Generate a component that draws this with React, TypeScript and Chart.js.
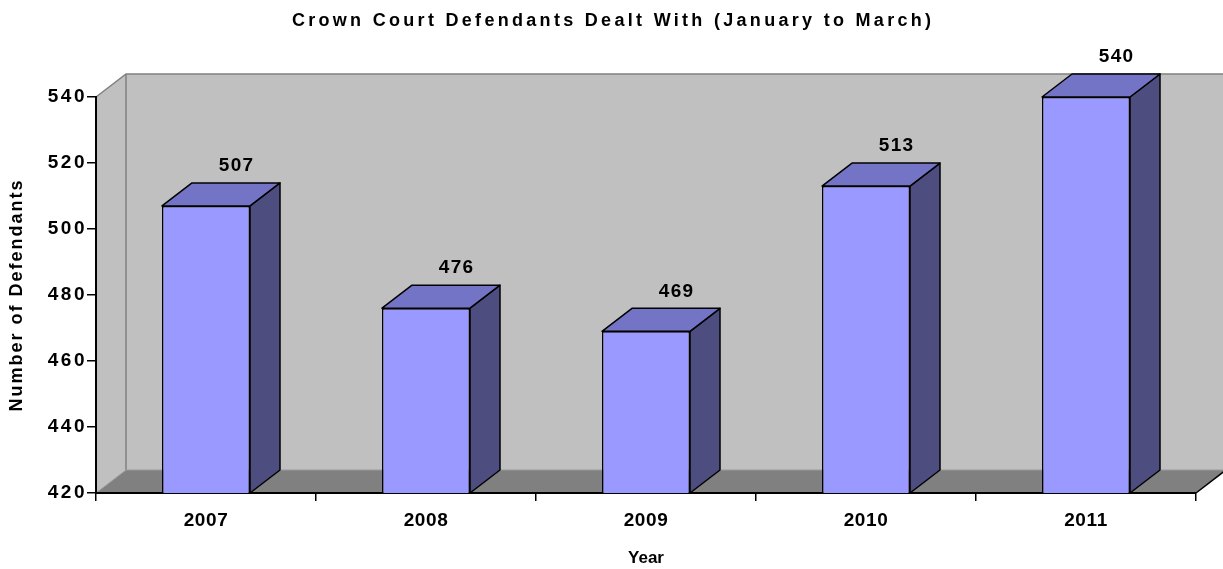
import React, { useEffect, useRef } from "react";
import { Chart, registerables } from "chart.js";

Chart.register(...registerables);

const categories = ["2007", "2008", "2009", "2010", "2011"];
const defendants = [507, 476, 469, 513, 540];
const yTickValues = [420, 440, 460, 480, 500, 520, 540];

const TITLE = "Crown Court Defendants Dealt With (January to March)";
const Y_TITLE = "Number of Defendants";
const X_TITLE = "Year";

const FONT = "'Liberation Sans', Arial, sans-serif";
const DX = 30;
const DY = -23;

const FRONT = "#9999FF";
const TOP = "#7474C6";
const SIDE = "#4D4D80";
const WALL = "#C0C0C0";
const FLOOR = "#808080";

function poly(ctx: CanvasRenderingContext2D, pts: number[][]) {
  ctx.beginPath();
  ctx.moveTo(pts[0][0], pts[0][1]);
  for (let i = 1; i < pts.length; i++) ctx.lineTo(pts[i][0], pts[i][1]);
  ctx.closePath();
}

function withSpacing(obj: any, method: string, spacing: number, dxFn?: () => number) {
  if (!obj || obj["__patched_" + method]) return;
  const orig = obj[method];
  obj[method] = function (...args: any[]) {
    const ctx = this.ctx as any;
    ctx.save();
    ctx.letterSpacing = spacing + "px";
    if (dxFn) ctx.translate(dxFn(), 0);
    const res = orig.apply(this, args);
    ctx.restore();
    return res;
  };
  obj["__patched_" + method] = true;
}

const threeD = {
  id: "threeD",
  afterLayout(chart: any) {
    const tb = chart.titleBlock;
    const titleSpacing = 3.3;
    withSpacing(tb, "draw", titleSpacing, () => chart.width / 2 - (tb.left + tb.right) / 2 + titleSpacing / 2);
    withSpacing(chart.scales.y, "drawTitle", 2);
    withSpacing(chart.scales.y, "drawLabels", 2.5);
    withSpacing(chart.scales.x, "drawLabels", 0.6);
  },
  beforeDraw(chart: any) {
    const { ctx, chartArea: a } = chart;
    const { left: l, right: r, top: t, bottom: b } = a;
    ctx.save();
    // back wall
    ctx.fillStyle = WALL;
    ctx.fillRect(l + DX, t + DY, r - l + 10, b - t);
    // left wall
    poly(ctx, [[l, t], [l + DX, t + DY], [l + DX, b + DY], [l, b]]);
    ctx.fill();
    // floor
    ctx.fillStyle = FLOOR;
    poly(ctx, [[l, b], [l + DX, b + DY], [r + DX, b + DY], [r, b]]);
    ctx.fill();
    // wall edges
    ctx.strokeStyle = "#808080";
    ctx.lineWidth = 1.5;
    ctx.beginPath();
    ctx.moveTo(l, t);
    ctx.lineTo(l + DX, t + DY);
    ctx.lineTo(r + DX + 10, t + DY);
    ctx.moveTo(l + DX, t + DY);
    ctx.lineTo(l + DX, b + DY);
    ctx.stroke();
    ctx.strokeStyle = "#9a9a9a";
    ctx.lineWidth = 1;
    ctx.beginPath();
    ctx.moveTo(l, b);
    ctx.lineTo(l + DX, b + DY);
    ctx.lineTo(r + DX + 10, b + DY);
    ctx.stroke();
    // floor right edge
    ctx.strokeStyle = "#000";
    ctx.lineWidth = 1.5;
    ctx.beginPath();
    ctx.moveTo(r, b);
    ctx.lineTo(r + DX, b + DY);
    ctx.stroke();
    ctx.restore();
  },
  afterDatasetsDraw(chart: any) {
    const { ctx, chartArea } = chart;
    const meta = chart.getDatasetMeta(0);
    const values = chart.data.datasets[0].data;
    ctx.save();
    ctx.lineJoin = "round";
    meta.data.forEach((bar: any, i: number) => {
      const p = bar.getProps(["x", "y", "base", "width"], true);
      const x = p.x;
      const y = p.y;
      const base = Math.min(p.base, chartArea.bottom);
      const l = x - p.width / 2;
      const r = x + p.width / 2;
      ctx.strokeStyle = "#000";
      ctx.lineWidth = 1.5;
      // side
      ctx.fillStyle = SIDE;
      poly(ctx, [[r, y], [r + DX, y + DY], [r + DX, base + DY], [r, base]]);
      ctx.fill();
      ctx.stroke();
      // top
      ctx.fillStyle = TOP;
      poly(ctx, [[l, y], [l + DX, y + DY], [r + DX, y + DY], [r, y]]);
      ctx.fill();
      ctx.stroke();
      // label
      ctx.fillStyle = "#000";
      ctx.font = `bold 19px ${FONT}`;
      (ctx as any).letterSpacing = "1.3px";
      ctx.textAlign = "center";
      ctx.textBaseline = "middle";
      ctx.fillText(String(values[i]), x + DX + 0.65, y + DY - 17);
      (ctx as any).letterSpacing = "0px";
    });
    ctx.restore();
  },
};

export default function App() {
  const ref = useRef<HTMLCanvasElement | null>(null);

  useEffect(() => {
    if (!ref.current) return;
    const chart = new Chart(ref.current, {
      type: "bar",
      data: {
        labels: categories,
        datasets: [
          {
            data: defendants,
            backgroundColor: FRONT,
            borderColor: "#000",
            borderWidth: 1.5,
            borderSkipped: false,
            categoryPercentage: 1,
            barPercentage: 0.4,
          },
        ],
      },
      options: {
        animation: false,
        responsive: false,
        maintainAspectRatio: false,
        devicePixelRatio: 1,
        layout: { padding: { left: 0, right: 27, top: 0, bottom: 0 } },
        plugins: {
          legend: { display: false },
          tooltip: { enabled: false },
          title: {
            display: true,
            text: TITLE,
            color: "#000",
            font: { family: FONT, size: 18, weight: "bold", lineHeight: 1.2 },
            padding: { top: 10, bottom: 65.4 },
          },
        },
        scales: {
          x: {
            type: "category",
            grid: {
              display: true,
              drawOnChartArea: false,
              drawTicks: true,
              tickLength: 8,
              color: "#000",
              lineWidth: 1.5,
              offset: true,
            },
            border: { display: true, color: "#000", width: 2 },
            ticks: {
              color: "#000",
              font: { family: FONT, size: 19, weight: "bold" },
              padding: 8.5,
              maxRotation: 0,
            },
            title: {
              display: true,
              text: X_TITLE,
              color: "#000",
              font: { family: FONT, size: 17, weight: "bold" },
              padding: { top: 0, bottom: 0 },
            },
            afterFit(scale: any) {
              scale.height = 76;
            },
          },
          y: {
            type: "linear",
            min: 420,
            max: 540,
            afterBuildTicks(scale: any) {
              scale.ticks = yTickValues.map((v) => ({ value: v }));
            },
            grid: {
              display: true,
              drawOnChartArea: false,
              drawTicks: true,
              tickLength: 9,
              color: "#000",
              lineWidth: 1.5,
            },
            border: { display: true, color: "#000", width: 2 },
            ticks: {
              color: "#000",
              font: { family: FONT, size: 19, weight: "bold" },
              padding: 0,
            },
            title: {
              display: true,
              text: Y_TITLE,
              color: "#000",
              font: { family: FONT, size: 18, weight: "bold" },
              padding: { top: 6, bottom: 0 },
            },
            afterFit(scale: any) {
              scale.width = 96;
            },
          },
        },
      },
      plugins: [threeD],
    });
    return () => chart.destroy();
  }, []);

  return (
    <div style={{ position: "fixed", left: 0, top: 0, width: 1223, height: 569, background: "#fff" }}>
      <canvas ref={ref} width={1223} height={569} style={{ display: "block" }} />
    </div>
  );
}
